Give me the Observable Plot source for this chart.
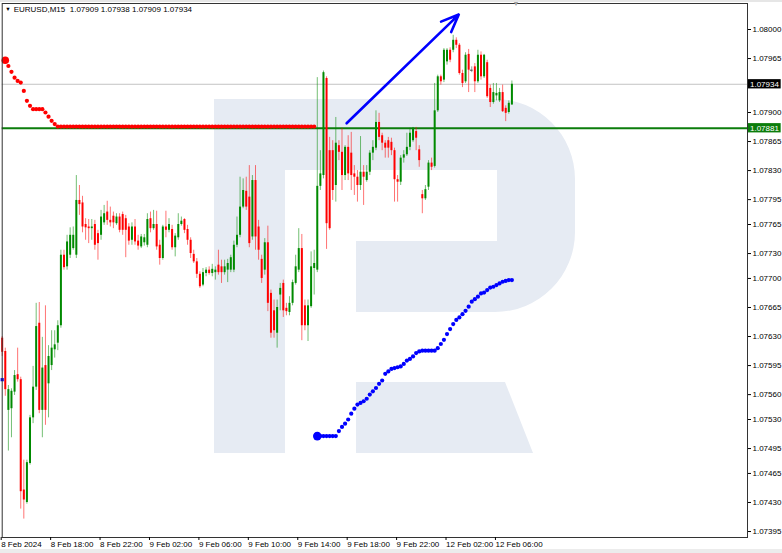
<!DOCTYPE html>
<html><head><meta charset="utf-8">
<script src="https://cdn.jsdelivr.net/npm/d3@7"></script>
<script src="https://cdn.jsdelivr.net/npm/@observablehq/plot@0.6"></script>
<style>
html,body{margin:0;padding:0;background:#fff;}
#wrap{position:relative;width:782px;height:553px;overflow:hidden;background:#fff;}
#bg{position:absolute;left:0;top:0;}
#chart{position:absolute;left:0;top:0;}
</style></head><body>
<div id="wrap">
<svg id="bg" width="782" height="553">
  <rect x="0" y="0" width="782" height="2" fill="#e6e6e6"/>
  <rect x="0" y="549" width="782" height="4" fill="#ececec"/>
  <g fill="#e6ebf3">
    <rect x="214" y="99" width="71" height="354"/>
    <path d="M285,99 H495 A80,80 0 0 1 575,179 V232 A80,80 0 0 1 495,312 H356 V241 H497 V170 H285 Z"/>
    <path d="M356,382 H505 L533,453 H356 Z"/>
  </g>
</svg>
<div id="chart"></div>
</div>
<script>
// ---- data (EURUSD M15, bars from 8 Feb 2024 14:00) ----
const open = [1.07628,1.07612,1.07541,1.07543,1.07563,1.07584,1.07578,1.07445,1.07430,1.07477,
 1.07532,1.07569,1.07646,1.07541,1.07595,1.07573,1.07595,1.07614,1.07622,1.07643,
 1.07728,1.07714,1.07728,1.07736,1.07728,1.07794,1.07791,1.07765,1.07762,1.07760,
 1.07765,1.07754,1.07752,1.07767,1.07780,1.07770,1.07775,1.07766,1.07774,1.07777,
 1.07772,1.07762,1.07746,1.07762,1.07745,1.07738,1.07743,1.07740,1.07772,1.07760,
 1.07765,1.07740,1.07724,1.07762,1.07758,1.07759,1.07737,1.07749,1.07765,1.07771,
 1.07759,1.07746,1.07729,1.07720,1.07705,1.07692,1.07706,1.07710,1.07706,1.07707,
 1.07716,1.07714,1.07707,1.07710,1.07710,1.07710,1.07740,1.07752,1.07786,1.07805,
 1.07798,1.07750,1.07818,1.07762,1.07723,1.07710,1.07743,1.07682,1.07661,1.07634,
 1.07680,1.07694,1.07664,1.07659,1.07670,1.07694,1.07710,1.07736,1.07667,1.07643,
 1.07666,1.07712,1.07710,1.07811,1.07824,1.07941,1.07854,1.07854,1.07812,1.07860,
 1.07852,1.07824,1.07858,1.07851,1.07826,1.07822,1.07812,1.07828,1.07818,1.07828,
 1.07851,1.07857,1.07888,1.07872,1.07863,1.07866,1.07864,1.07854,1.07819,1.07816,
 1.07845,1.07849,1.07858,1.07866,1.07877,1.07855,1.07801,1.07796,1.07810,1.07839,
 1.07835,1.07902,1.07943,1.07939,1.07961,1.07975,1.07975,1.07987,1.07981,1.07947,
 1.07937,1.07970,1.07951,1.07955,1.07937,1.07969,1.07943,1.07960,1.07929,1.07912,
 1.07920,1.07914,1.07924,1.07905,1.07900,1.07909];
const high = [1.07630,1.07616,1.07571,1.07567,1.07589,1.07616,1.07581,1.07481,1.07481,1.07535,
 1.07594,1.07670,1.07671,1.07629,1.07667,1.07619,1.07637,1.07637,1.07649,1.07734,
 1.07734,1.07752,1.07761,1.07762,1.07824,1.07812,1.07799,1.07772,1.07771,1.07771,
 1.07770,1.07758,1.07782,1.07788,1.07793,1.07786,1.07780,1.07778,1.07778,1.07780,
 1.07776,1.07766,1.07767,1.07771,1.07752,1.07753,1.07753,1.07778,1.07780,1.07782,
 1.07781,1.07746,1.07764,1.07781,1.07772,1.07764,1.07754,1.07778,1.07774,1.07772,
 1.07764,1.07749,1.07734,1.07724,1.07708,1.07712,1.07713,1.07714,1.07717,1.07714,
 1.07734,1.07722,1.07722,1.07723,1.07728,1.07745,1.07774,1.07822,1.07820,1.07822,
 1.07836,1.07824,1.07836,1.07770,1.07728,1.07748,1.07763,1.07686,1.07674,1.07674,
 1.07694,1.07698,1.07670,1.07678,1.07698,1.07728,1.07760,1.07753,1.07674,1.07674,
 1.07732,1.07734,1.07942,1.07854,1.07950,1.07943,1.07870,1.07866,1.07894,1.07866,
 1.07881,1.07860,1.07872,1.07876,1.07836,1.07830,1.07871,1.07836,1.07836,1.07854,
 1.07866,1.07902,1.07899,1.07875,1.07866,1.07870,1.07869,1.07857,1.07824,1.07848,
 1.07854,1.07875,1.07881,1.07882,1.07882,1.07860,1.07806,1.07812,1.07842,1.07845,
 1.07935,1.07945,1.07945,1.07977,1.07977,1.07978,1.07993,1.07990,1.07983,1.07951,
 1.07972,1.07976,1.07955,1.07959,1.07975,1.07973,1.07970,1.07963,1.07933,1.07935,
 1.07935,1.07929,1.07933,1.07908,1.07914,1.07938];
const low = [1.07606,1.07558,1.07492,1.07508,1.07559,1.07575,1.07422,1.07410,1.07428,1.07475,
 1.07525,1.07565,1.07537,1.07508,1.07523,1.07532,1.07589,1.07604,1.07613,1.07640,
 1.07710,1.07710,1.07724,1.07734,1.07724,1.07776,1.07755,1.07746,1.07742,1.07746,
 1.07734,1.07722,1.07746,1.07764,1.07764,1.07762,1.07760,1.07764,1.07755,1.07752,
 1.07725,1.07740,1.07740,1.07740,1.07734,1.07736,1.07739,1.07737,1.07755,1.07758,
 1.07734,1.07716,1.07722,1.07749,1.07755,1.07734,1.07726,1.07746,1.07763,1.07754,
 1.07740,1.07724,1.07718,1.07700,1.07688,1.07690,1.07702,1.07704,1.07702,1.07698,
 1.07704,1.07694,1.07704,1.07695,1.07707,1.07707,1.07737,1.07749,1.07784,1.07782,
 1.07737,1.07746,1.07734,1.07722,1.07694,1.07704,1.07660,1.07628,1.07628,1.07616,
 1.07661,1.07653,1.07655,1.07655,1.07667,1.07692,1.07707,1.07625,1.07637,1.07624,
 1.07664,1.07680,1.07707,1.07806,1.07820,1.07735,1.07758,1.07794,1.07792,1.07842,
 1.07806,1.07818,1.07818,1.07806,1.07800,1.07792,1.07806,1.07788,1.07816,1.07824,
 1.07842,1.07854,1.07866,1.07854,1.07845,1.07845,1.07848,1.07792,1.07792,1.07812,
 1.07839,1.07847,1.07854,1.07864,1.07854,1.07834,1.07778,1.07794,1.07806,1.07830,
 1.07833,1.07900,1.07933,1.07936,1.07957,1.07960,1.07972,1.07977,1.07945,1.07930,
 1.07935,1.07924,1.07948,1.07924,1.07935,1.07939,1.07941,1.07917,1.07906,1.07910,
 1.07914,1.07912,1.07900,1.07889,1.07898,1.07909];
const close = [1.07611,1.07566,1.07566,1.07564,1.07583,1.07578,1.07443,1.07433,1.07478,1.07532,
 1.07569,1.07642,1.07541,1.07592,1.07541,1.07606,1.07616,1.07620,1.07643,1.07728,
 1.07713,1.07744,1.07752,1.07752,1.07794,1.07789,1.07762,1.07761,1.07760,1.07762,
 1.07740,1.07742,1.07774,1.07778,1.07770,1.07767,1.07767,1.07774,1.07758,1.07758,
 1.07758,1.07745,1.07762,1.07744,1.07739,1.07750,1.07749,1.07771,1.07760,1.07765,
 1.07738,1.07724,1.07762,1.07758,1.07765,1.07737,1.07751,1.07765,1.07769,1.07758,
 1.07746,1.07730,1.07720,1.07705,1.07690,1.07707,1.07710,1.07706,1.07711,1.07710,
 1.07707,1.07707,1.07714,1.07718,1.07725,1.07740,1.07752,1.07786,1.07806,1.07786,
 1.07742,1.07818,1.07750,1.07734,1.07700,1.07743,1.07670,1.07634,1.07637,1.07665,
 1.07688,1.07661,1.07660,1.07670,1.07695,1.07714,1.07736,1.07643,1.07643,1.07667,
 1.07714,1.07718,1.07811,1.07826,1.07948,1.07766,1.07760,1.07806,1.07863,1.07852,
 1.07824,1.07858,1.07826,1.07824,1.07822,1.07812,1.07828,1.07822,1.07828,1.07851,
 1.07858,1.07888,1.07870,1.07863,1.07857,1.07857,1.07854,1.07819,1.07816,1.07845,
 1.07849,1.07858,1.07875,1.07881,1.07869,1.07842,1.07796,1.07807,1.07839,1.07834,
 1.07902,1.07943,1.07937,1.07975,1.07975,1.07963,1.07987,1.07981,1.07947,1.07935,
 1.07969,1.07951,1.07951,1.07937,1.07969,1.07943,1.07969,1.07919,1.07912,1.07924,
 1.07923,1.07924,1.07901,1.07899,1.07911,1.07934];

// red dotted indicator, starting at bar 1
const redStart = 1;
const redValues = [1.07963,1.07956,1.07949,1.07942,1.07938,1.07936,1.07926,1.07914,1.07908,1.07904,
 1.07904,1.07904,1.07904,1.07900,1.07895,1.07890,1.07886,
 1.07883,1.07883,1.07883,1.07883,1.07883,1.07883,1.07883,1.07883,1.07883,1.07883,1.07883,1.07883,
 1.07883,1.07883,1.07883,1.07883,1.07883,1.07883,1.07883,1.07883,1.07883,1.07883,1.07883,1.07883,
 1.07883,1.07883,1.07883,1.07883,1.07883,1.07883,1.07883,1.07883,1.07883,1.07883,1.07883,1.07883,
 1.07883,1.07883,1.07883,1.07883,1.07883,1.07883,1.07883,1.07883,1.07883,1.07883,1.07883,1.07883,
 1.07883,1.07883,1.07883,1.07883,1.07883,1.07883,1.07883,1.07883,1.07883,1.07883,1.07883,1.07883,
 1.07883,1.07883,1.07883,1.07883,1.07883,1.07883,1.07883,1.07883,1.07883,1.07883,1.07883,1.07883,
 1.07883,1.07883,1.07883,1.07883,1.07883,1.07883,1.07883,1.07883,1.07883,1.07883,1.07883,1.07883];
// blue dotted indicator, starting at bar 102
const blueStart = 102;
const blueValues = [1.07510,1.07510,1.07510,1.07510,1.07510,1.07510,1.07510,
 1.07516,1.07521,1.07525,1.07530,1.07537,1.07543,1.07548,1.07550,1.07552,1.07555,
 1.07560,1.07564,1.07568,1.07573,1.07577,1.07585,1.07588,1.07591,1.07592,1.07593,
 1.07594,1.07597,1.07601,1.07603,1.07606,1.07610,1.07612,
 1.07613,1.07613,1.07613,1.07613,1.07613,
 1.07616,1.07621,1.07626,1.07633,1.07639,1.07645,1.07650,1.07653,1.07657,1.07661,
 1.07666,1.07672,1.07675,1.07678,1.07682,1.07683,1.07686,1.07689,1.07690,1.07692,
 1.07694,1.07696,1.07697,1.07698,1.07698];
const blueEdgeBar = 0, blueEdgeValue = 1.07578;

const currentPrice = 1.07934;
const levelPrice = 1.07881;
const arrowBars = [111.5, 147.8];
const arrowPrices = [1.07887, 1.08018];
const shiftBar = 166.3;

const yTicks = [1.08000,1.07965,1.07900,1.07865,1.07830,1.07795,1.07765,1.07730,1.07700,
 1.07665,1.07630,1.07595,1.07560,1.07530,1.07495,1.07465,1.07430,1.07395];
const tickBars = [0,16,32,48,64,80,96,112,128,144,160];
const tickLabels = ["8 Feb 2024","8 Feb 18:00","8 Feb 22:00","9 Feb 02:00","9 Feb 06:00",
 "9 Feb 10:00","9 Feb 14:00","9 Feb 18:00","9 Feb 22:00","12 Feb 02:00","12 Feb 06:00"];
const titleText = "EURUSD,M15  1.07909 1.07938 1.07909 1.07934";

// ---- build ----
const candles = d3.range(open.length).map(i => ({i, o: open[i], h: high[i], l: low[i], c: close[i]}));
const colorOf = d => d.c > d.o ? "#008a00" : d.c < d.o ? "#ff0000" : "#444444";
const red = redValues.map((v, k) => ({i: redStart + k, v}));
const blue = blueValues.map((v, k) => ({i: blueStart + k, v}));
const xMax = 241.27;
const font = "Liberation Sans, Arial, sans-serif";

const chart = Plot.plot({
  width: 782, height: 553,
  marginLeft: 1.7, marginRight: 35, marginTop: 3, marginBottom: 16,
  x: {domain: [0, xMax], axis: null, label: null},
  y: {domain: [1.073878, 1.0803135], axis: null, label: null},
  color: {type: "identity"},
  style: {background: "transparent", fontFamily: font, fontSize: "8px", color: "black"},
  marks: [
    Plot.ruleY([currentPrice], {stroke: "#c4c4c4", strokeWidth: 1}),
    Plot.ruleY([levelPrice], {stroke: "#0b7d0b", strokeWidth: 2}),
    Plot.ruleX(candles, {x: "i", y1: "l", y2: "h", stroke: colorOf, strokeOpacity: 0.55}),
    Plot.ruleX(candles, {x: "i", y1: "o", y2: "c", stroke: colorOf, strokeWidth: 2}),
    Plot.ruleY(candles.filter(d => d.o === d.c), {y: "o", x1: d => d.i - 0.45, x2: d => d.i + 0.45, stroke: "#444"}),
    Plot.dot(red, {x: "i", y: "v", r: 2.1, fill: "#ff0000"}),
    Plot.dot(red.slice(0, 1), {x: "i", y: "v", r: 3.8, fill: "#ff0000"}),
    Plot.dot(blue, {x: "i", y: "v", r: 2.1, fill: "#0000ff"}),
    Plot.dot(blue.slice(0, 1), {x: "i", y: "v", r: 4.3, fill: "#0000ff"}),
    Plot.dot([{i: blueEdgeBar, v: blueEdgeValue}], {x: "i", y: "v", r: 1.8, fill: "#0000ff", symbol: "square"}),
    Plot.arrow([0], {x1: arrowBars[0], y1: arrowPrices[0], x2: arrowBars[1], y2: arrowPrices[1],
      stroke: "#0000ff", strokeWidth: 2.6, headLength: 11, headAngle: 45}),
    Plot.frame({stroke: "#333"}),
    Plot.axisY({anchor: "right", ticks: yTicks, tickFormat: d => d.toFixed(5), tickSize: 3, tickPadding: 2, fontSize: 8, label: null}),
    Plot.axisX({ticks: tickBars, tickFormat: d => tickLabels[tickBars.indexOf(d)], tickSize: 3, tickPadding: 1,
      textAnchor: "start", dx: -1, fontSize: 8, label: null}),
    Plot.rect([currentPrice], {x1: xMax + 0.3, x2: xMax + 10.9, y1: d => d - 0.000056, y2: d => d + 0.000056, fill: "#000"}),
    Plot.text([currentPrice], {x: xMax + 0.8, y: d => d, text: d => d.toFixed(5), fill: "white", textAnchor: "start", fontSize: 8}),
    Plot.rect([levelPrice], {x1: xMax + 0.3, x2: xMax + 10.9, y1: d => d - 0.000056, y2: d => d + 0.000056, fill: "#0b7d0b"}),
    Plot.text([levelPrice], {x: xMax + 0.8, y: d => d, text: d => d.toFixed(5), fill: "white", textAnchor: "start", fontSize: 8}),
    Plot.text([titleText], {frameAnchor: "top-left", dx: 11.5, dy: 2.5, text: d => d, textAnchor: "start", fontSize: 8}),
    Plot.text(["\u25BC"], {frameAnchor: "top-left", dx: 3, dy: 4, text: d => d, textAnchor: "start", fontSize: 5.5}),
    Plot.text(["\u25BC"], {x: shiftBar, frameAnchor: "top", dy: -2.5, text: d => d, fontSize: 7, fill: "#a0a0a0"})
  ]
});
document.getElementById("chart").appendChild(chart);
</script>
</body></html>
